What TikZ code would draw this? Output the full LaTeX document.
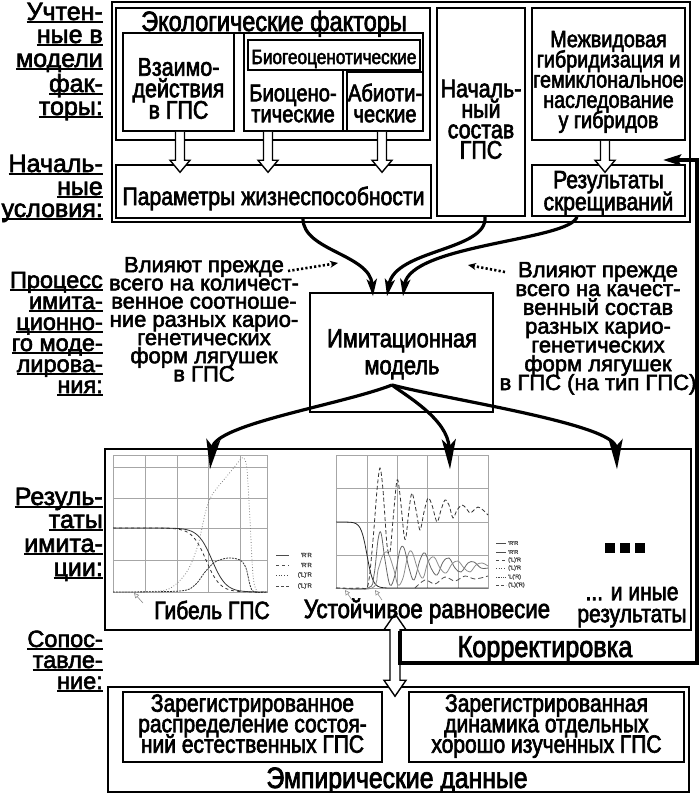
\documentclass[tikz,border=0pt]{standalone}
\usepackage{fontspec}
\setmainfont{Liberation Sans}[FakeStretch=0.84, FakeBold=2.5]
\newfontfamily\lblfont{Liberation Sans}[FakeBold=2.5]
\usetikzlibrary{arrows.meta,calc}
\setlength\lineskiplimit{-1000pt}
\setlength\lineskip{0pt}
\newcommand\fs[2]{\fontsize{#1}{#2}\selectfont}
\newcommand\undl[1]{\setbox0\hbox{#1}\rlap{\rule[-2.6pt]{\wd0}{1.8pt}}\box0}
\newcommand\ts{\rule{0pt}{1em}}
\begin{document}
\begin{tikzpicture}[x=1pt,y=-1pt,
  box/.style={draw, line width=1.5pt, inner sep=0pt},
  txt/.style={inner sep=0pt, align=center, anchor=north},
  one/.style={inner sep=0pt, anchor=base},
  lbl/.style={inner sep=0pt, anchor=base east, font=\lblfont\fs{25}{25}},
  lbls/.style={inner sep=0pt, anchor=base east, font=\lblfont\fs{23.5}{23.5}},
  harrow/.style={draw, line width=1.4pt, fill=white, to path={let \p1=(\tikztostart), \p2=(\tikztotarget) in (\x1-4.5pt,\y1) -- (\x1-4.5pt,\y2+12pt) -- (\x1-10pt,\y2+12pt) -- (\x1,\y2) -- (\x1+10pt,\y2+12pt) -- (\x1+4.5pt,\y2+12pt) -- (\x1+4.5pt,\y1)}},
  dharrow/.style={draw, line width=1.4pt, fill=white, to path={let \p1=(\tikztostart), \p2=(\tikztotarget) in (\x1,\y1) -- (\x1+11pt,\y1-16pt) -- (\x1+5pt,\y1-16pt) -- (\x1+5pt,\y2+16pt) -- (\x1+11pt,\y2+16pt) -- (\x1,\y2) -- (\x1-11pt,\y2+16pt) -- (\x1-5pt,\y2+16pt) -- (\x1-5pt,\y1-16pt) -- (\x1-11pt,\y1-16pt) -- cycle}},
  incurve/.style={line width=3.2pt, -{Stealth[length=17pt,width=10pt,inset=4pt]}},
  outcurve/.style={line width=3.2pt, -{Stealth[length=30pt,width=14pt,inset=7pt]}},
  dotarr/.style={line width=2.6pt, dash pattern=on 2.2pt off 2.2pt, -{Stealth[length=8pt,width=7pt]}},
  fb/.style={line width=3.6pt, -{Stealth[length=18pt,width=11pt,inset=3pt]}},
  gridl/.style={line width=0.5pt, black!35},
  crv/.style={line width=0.8pt},
  tinyarr/.style={line width=0.6pt, black!45, -{Triangle[open,length=5pt,width=5pt]}}
]
\useasboundingbox (0,0) rectangle (700,793);

% ---------- left labels ----------
\foreach \t/\y [count=\i] in {Учтен-/20, ные в/43, модели/67, фак-/92, торы:/115}
  \node[lbl] (la\i) at (103,\y) {\undl{\t}};
\foreach \t/\y [count=\i] in {Началь-/172, ные/195, условия:/217}
  \node[lbl] (lb\i) at (103,\y) {\undl{\t}};
\foreach \t/\y [count=\i] in {Процесс/288, имита-/309, ционно-/330, го моде-/351, лирова-/372, ния:/393}
  \node[lbls] (lc\i) at (103,\y) {\undl{\t}};
\foreach \t/\y [count=\i] in {Резуль-/505, таты/528, имита-/552, ции:/576}
  \node[lbl] (ld\i) at (103,\y) {\undl{\t}};
\foreach \t/\y [count=\i] in {Сопос-/647, тавле-/668, ние:/689}
  \node[lbls] (le\i) at (103,\y) {\undl{\t}};

% ---------- top block ----------
\node[box, line width=1.6pt, minimum width=578, minimum height=220] (top) at (401,112) {};
\node[box, minimum width=314, minimum height=132] (eco) at (273,74) {};
\node[box, minimum width=111, minimum height=98] (vz) at (178.5,82) {};
\node[box, minimum width=179, minimum height=98] (bg) at (333.5,82) {};
\node[box, minimum width=172, minimum height=30] (bgh) at (334,55) {};
\node[box, minimum width=76, minimum height=59] (ab) at (385,101.5) {};
\draw[line width=1.5pt] (bgh.south -| 343,0) -- (bg.south -| 343,0);
\node[box, minimum width=315, minimum height=53] (param) at (273.5,191.5) {};
\node[box, minimum width=88, minimum height=208] (nach) at (481,112) {};
\node[box, minimum width=153, minimum height=132] (mezh) at (608.5,74) {};
\node[box, minimum width=153, minimum height=51] (rez) at (608.5,190.5) {};

\node[one, font=\fs{28}{28}] (ecot) at (274,31) {\undl{Экологические факторы}};
\node[one, font=\fs{20.5}{20.5}] (bght) at (334,64) {Биогеоценотические};
\node[txt, font=\fs{25.5}{21.5}] (vzt) at (178.5,50) {\ts Взаимо-\\действия\\в ГПС};
\node[txt, font=\fs{24}{21}] (bct) at (293,77) {\ts Биоцено-\\тические};
\node[txt, font=\fs{24}{21}] (abt) at (385,77) {\ts Абиоти-\\ческие};
\node[txt, font=\fs{25.5}{20.5}] (nacht) at (481,71.5) {\ts Началь-\\ный\\состав\\ГПС};
\node[txt, font=\fs{23.5}{20.2}] (mezt) at (608.5,23.5) {\ts Межвидовая\\гибридизация и\\гемиклональное\\наследование\\у гибридов};
\node[txt, font=\fs{25}{22}] (rezt) at (608.5,163) {\ts Результаты\\скрещиваний};
\node[one, font=\fs{25.2}{25}] (paramt) at (273.5,205) {Параметры жизнеспособности};

\coordinate (hx1) at (180,0);
\coordinate (hx2) at (268,0);
\coordinate (hx3) at (382,0);
\coordinate (hx4) at (605,0);
\draw[harrow] (vz.south -| hx1) to ($(param.north -| hx1)+(0,8)$);
\draw[harrow] (bg.south -| hx2) to ($(param.north -| hx2)+(0,8)$);
\draw[harrow] (bg.south -| hx3) to ($(param.north -| hx3)+(0,8)$);
\draw[harrow] (mezh.south -| hx4) to ($(rez.north -| hx4)+(0,8)$);

% ---------- model ----------
\node[box, minimum width=183, minimum height=119] (model) at (401.5,352.5) {};
\node[txt, font=\fs{26}{27}] (modelt) at (402,321) {\ts Имитационная\\модель};

\draw[incurve] ($(param.south)+(29.5,0)$) .. controls +(0,32) and +(-3,-42) .. ($(model.north)+(-28.5,4)$);
\draw[incurve] ($(nach.south)+(4,0)$) .. controls +(3,34) and +(8,-47) .. ($(model.north)+(-14.5,4)$);
\draw[incurve] ($(rez.south)+(-31.5,0)$) .. controls +(-7,24) and +(7,-52) .. ($(model.north)+(1.5,4)$);

\node[txt, font=\lblfont\fs{22}{18.2}] (lside) at (204,250) {\ts Влияют прежде\\всего на количест-\\венное соотноше-\\ние разных карио-\\генетических\\форм лягушек\\в ГПС};
\node[txt, font=\lblfont\fs{22}{18.8}] (rside) at (598,255) {\ts Влияют прежде\\всего на качест-\\венный состав\\разных карио-\\генетических\\форм лягушек\\в ГПС (на тип ГПС)};
\coordinate (da1) at (288,271);
\coordinate (da2) at (338,263);
\coordinate (db1) at (505,272);
\coordinate (db2) at (468,265);
\draw[dotarr] (da1) -- (da2);
\draw[dotarr] (db1) -- (db2);

% ---------- results ----------
\node[box, minimum width=586, minimum height=181] (res) at (398,539.5) {};

% graph 1
\draw[gridl] (113,455) rectangle (267,592);
\foreach \x in {145,177,208,240} \draw[gridl] (\x,455) -- (\x,592);
\foreach \y in {467,498,528,560} \draw[gridl] (113,\y) -- (267,\y);
\draw[crv, black!80] plot[domain=113:267, samples=70, smooth] (\x,{528+64/(1+exp(-max(-8,min(8,(\x-212)/7))))});
\draw[crv, black!80, dashed] plot[domain=113:267, samples=70, smooth] (\x,{528+64/(1+exp(-max(-8,min(8,(\x-206)/7))))});
\draw[crv, black!50, dotted] plot[smooth, tension=0.5] coordinates {(113,592) (160,591) (175,585) (188,570) (198,545) (206,510) (212,495) (222,482) (232,470) (240,460) (244,458) (247,470) (250,520) (253,575) (257,591) (267,592)};
\draw[crv, black!80, dash pattern=on 2pt off 1pt] plot[smooth, tension=0.5] coordinates {(113,592) (180,591) (195,585) (205,572) (215,562) (228,558) (240,560) (246,568) (250,585) (254,592) (267,592)};
\foreach \y/\t/\s [count=\i] in {555/'R'R/solid, 565/'R'R/dashed, 575/('L)'R/dotted, 586/('L)'R/densely dashed} {
  \draw[\s, line width=0.7pt, black!70] (276,\y) -- (289,\y);
  \node[anchor=east, inner sep=0pt, font=\lblfont\fs{6}{6}, black!70] (lg\i) at (312,\y) {\t};
}
\draw[tinyarr] (143,603) -- (134,593);

% graph 2
\draw[gridl] (336,455) rectangle (488,588);
\foreach \x in {367,397,427,458} \draw[gridl] (\x,455) -- (\x,588);
\foreach \y in {488,522,555} \draw[gridl] (336,\y) -- (488,\y);
\draw[crv, black!85] plot[domain=336:488, samples=70, smooth] (\x,{522+66/(1+exp(-max(-8,min(8,(\x-367)/3))))});
\draw[crv, black!60] plot[smooth, tension=0.6] coordinates {(336,588) (368,588) (374,575) (378,540) (381,533) (385,560) (390,585) (395,575) (400,550) (404,548) (409,568) (414,580) (420,560) (425,553) (431,568) (437,575) (443,562) (449,558) (455,568) (461,572) (468,563) (474,562) (481,568) (488,568)};
\draw[crv, black!45] plot[smooth, tension=0.6] coordinates {(336,588) (372,588) (378,570) (383,555) (388,553) (394,570) (398,585) (403,578) (408,555) (412,552) (418,570) (423,578) (428,562) (434,557) (440,568) (446,573) (452,564) (458,561) (464,568) (470,572) (476,565) (482,563) (488,566)};
\draw[crv, black!70, dash pattern=on 5pt off 3pt] plot[smooth] coordinates {(415,588) (425,580) (435,584) (445,577) (455,581) (465,576) (475,579) (488,576)};
\draw[crv, black!80, dash pattern=on 4pt off 2.5pt] plot[smooth, tension=0.5] coordinates {(336,588) (360,588) (368,585) (373,540) (377,490) (380,468) (383,490) (387,545) (390,552) (393,520) (397,480) (400,495) (404,535) (406,537) (409,510) (412,493) (416,510) (420,530) (424,512) (428,498) (432,505) (437,522) (441,510) (445,500) (449,505) (453,518) (457,510) (462,505) (466,508) (470,513) (474,510) (478,507) (483,510) (488,515)};
\foreach \y/\t/\s [count=\i] in {543/'R'R/solid, 552/'R'R/solid, 560/('L)'R/dashed, 568/('L)'R/dotted, 577/'L('R)/densely dotted, 585/('L)('R)/densely dashed} {
  \draw[\s, line width=0.7pt, black!70] (496,\y) -- (506,\y);
  \node[anchor=west, inner sep=0pt, font=\lblfont\fs{5.5}{5.5}, black!70] (lh\i) at (508,\y) {\t};
}
\draw[tinyarr] (352,600) -- (345,590);
\draw[tinyarr] (382,600) -- (375,590);

\node[fill, minimum size=10, inner sep=0pt] (sq1) at (610,548) {};
\node[fill, minimum size=10, inner sep=0pt] (sq2) at (625,548) {};
\node[fill, minimum size=10, inner sep=0pt] (sq3) at (640,548) {};

\draw[outcurve] ($(model.center)+(-9.5,32.5)$) .. controls +(-52,20) and +(5,-45) .. ($(res.north)+(-188,21)$);
\draw[outcurve] ($(model.center)+(-9.5,32.5)$) .. controls +(13,10) and +(-2,-50) .. ($(res.north)+(52,21)$);
\draw[outcurve] ($(model.center)+(-9.5,32.5)$) .. controls +(58,15) and +(-2,-45) .. ($(res.north)+(219,21)$);

% ---------- empirical ----------
\node[box, minimum width=581, minimum height=105] (emp) at (398.5,739.5) {};
\node[box, minimum width=259, minimum height=70] (empL) at (252.5,727) {};
\node[box, minimum width=275, minimum height=70] (empR) at (546.5,727) {};
\node[txt, font=\fs{25}{20.5}] (empLt) at (252.5,686.5) {\ts Зарегистрированное\\распределение состоя-\\ний естественных ГПС};
\node[txt, font=\fs{25}{20.5}] (empRt) at (546.5,686.5) {\ts Зарегистрированная\\динамика отдельных\\хорошо изученных ГПС};
\node[one, font=\fs{29.5}{29.5}] (empt) at (397,788) {Эмпирические данные};

% ---------- double arrow and feedback ----------
\coordinate (dT) at ($(res.south)+(-3,-17)$);
\coordinate (dB) at ($(emp.north)+(-3.5,10)$);
\draw[dharrow] (dT) to (dB);
\coordinate (kA) at ($(res.south)+(2,0)$);
\coordinate (kB) at (400,663);
\coordinate (kC) at (697,663);
\coordinate (kD) at (697,160);
\coordinate (kE) at (663,160);
\draw[fb] (kA) -- (kB) -- (kC) -- (kD) -- (kE);

\node[one, font=\fs{25}{25}] (gibt) at (212,619) {Гибель ГПС};
\node[one, font=\fs{26.5}{26.5}] (ustt) at (427,618) {Устойчивое равновесие};
\node[txt, font=\fs{25}{22}] (inyet) at (632,575) {\ts ... и иные\\результаты};
\node[one, font=\fs{30}{30}] (korrt) at (545,657) {Корректировка};
\end{tikzpicture}
\end{document}
